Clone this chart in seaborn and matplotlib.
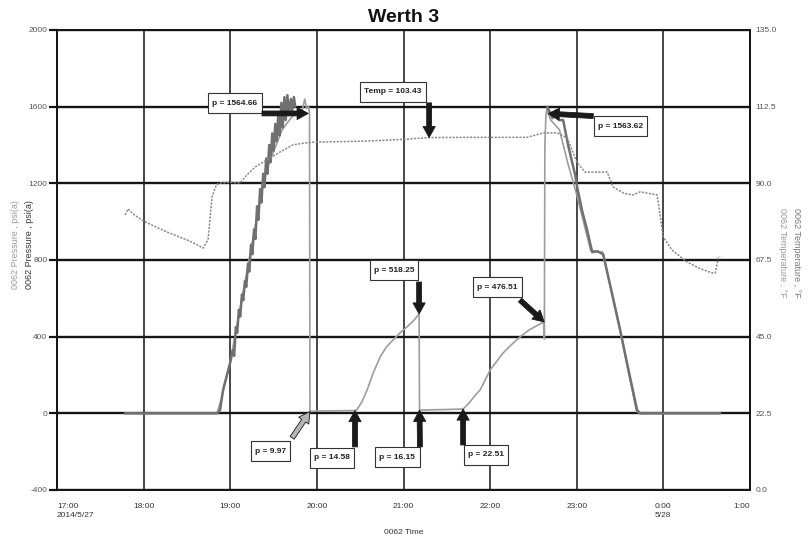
import matplotlib
matplotlib.use("Agg")
import matplotlib.pyplot as plt
from matplotlib.path import Path
import numpy as np
import pandas as pd
import seaborn as sns

# ---------------- data (hours after 17:00 on 2014/5/27) ----------------
thick_rise_h = [0.785, 1.848, 1.882, 1.917, 1.998, 2.030, 2.045, 2.065, 2.080, 2.100, 2.115,
                2.135, 2.150, 2.170, 2.185, 2.205, 2.220, 2.240, 2.255, 2.275, 2.290, 2.310,
                2.325, 2.345, 2.360, 2.380, 2.395, 2.415, 2.430, 2.450, 2.465, 2.485, 2.500,
                2.520, 2.535, 2.555, 2.570, 2.590, 2.605, 2.625, 2.640, 2.660, 2.675, 2.700,
                2.715, 2.735, 2.750]
thick_rise_p = [0, 0, 17, 122, 262, 330, 300, 450, 420, 540, 505,
                620, 590, 690, 660, 780, 740, 880, 830, 960, 910, 1080,
                1010, 1170, 1100, 1250, 1180, 1330, 1250, 1400, 1310, 1460, 1370,
                1510, 1420, 1560, 1450, 1620, 1490, 1650, 1530, 1660, 1560, 1640,
                1580, 1650, 1600]

thick_fall_h = [5.660, 5.720, 5.760, 5.800, 5.843, 5.900, 5.982, 6.005, 6.060, 6.120, 6.178,
                6.240, 6.305, 6.400, 6.501, 6.600, 6.697, 6.732, 7.656]
thick_fall_p = [1600, 1540, 1580, 1530, 1530, 1400, 1243, 1180, 1060, 956, 841,
                845, 830, 640, 435, 220, 17, 0, 0]

thin_h = [0.785, 1.848, 1.900, 2.000, 2.200, 2.400, 2.600, 2.700, 2.780, 2.820, 2.860, 2.880,
          2.905, 2.915, 2.920, 2.930, 3.000, 3.200, 3.440, 3.464, 3.520, 3.580, 3.650, 3.730,
          3.800, 3.880, 3.960, 4.040, 4.120, 4.180, 4.185, 4.300, 4.500, 4.688, 4.750, 4.820,
          4.885, 5.000, 5.150, 5.250, 5.346, 5.450, 5.554, 5.624, 5.626, 5.632, 5.645, 5.658,
          5.670, 5.700, 5.800, 5.900, 6.000, 6.100, 6.160, 6.300, 6.500, 6.690, 6.730, 7.656]
thin_p = [0, 0, 80, 270, 760, 1250, 1480, 1540, 1580, 1560, 1640, 1590,
          1600, 1564.66, 9.97, 10, 12, 13, 14.58, 20, 60, 122, 210, 294,
          345, 383, 420, 451, 485, 518.25, 16.15, 18, 20, 22.51, 50, 90,
          122, 226, 315, 360, 399, 435, 461, 476.51, 388, 1400, 1560, 1598,
          1563.62, 1530, 1480, 1300, 1140, 960, 850, 840, 430, 10, 0, 0]

temp_h = [0.785, 0.82, 0.88, 0.98, 1.10, 1.27, 1.40, 1.50, 1.60, 1.686, 1.744, 1.79, 1.84,
          1.882, 2.0, 2.113, 2.194, 2.286, 2.425, 2.575, 2.725, 2.85, 2.956, 3.2, 3.58, 4.0,
          4.296, 4.8, 5.427, 5.50, 5.612, 5.774, 5.89, 6.005, 6.097, 6.351, 6.42, 6.55, 6.651,
          6.732, 6.928, 6.998, 7.10, 7.275, 7.42, 7.563, 7.60, 7.633, 7.656]
temp_f = [80.7, 82.5, 81.0, 79.2, 77.7, 75.7, 74.4, 73.4, 72.2, 71.0, 73.4, 86.0, 89.6,
          90.1, 90.3, 90.1, 92.5, 94.8, 96.9, 99.2, 101.3, 101.8, 102.1, 102.2, 102.4, 102.9,
          103.43, 103.5, 103.5, 104.0, 104.8, 104.8, 103.3, 96.0, 93.3, 93.3, 88.9, 87.0, 86.6,
          87.5, 86.6, 74.3, 70.4, 66.9, 65.0, 63.7, 63.7, 68.1, 68.4]

x_ticks = [0, 1, 2, 3, 4, 5, 6, 7, 8]
x_tick_labels = ["17:00\n2014/5/27", "18:00", "19:00", "20:00", "21:00", "22:00",
                 "23:00", "0:00\n5/28", "1:00"]
p_ticks = [-400, 0, 400, 800, 1200, 1600, 2000]
t_ticks = [0.0, 22.5, 45.0, 67.5, 90.0, 112.5, 135.0]

# annotations: label, axis, tip (h, value), arrow tail (h, value), box centre (h, value), face
annotations = [
    ("p = 1564.66", "p", (2.900, 1564.66), (2.367, 1564.66), (2.055, 1619), "#1a1a1a"),
    ("Temp = 103.43", "t", (4.296, 103.43), (4.296, 113.6), (3.88, 116.9), "#1a1a1a"),
    ("p = 1563.62", "p", (5.670, 1563.62), (6.190, 1551), (6.507, 1498), "#1a1a1a"),
    ("p = 518.25", "p", (4.180, 518.25), (4.180, 685), (3.89, 747), "#1a1a1a"),
    ("p = 476.51", "p", (5.624, 476.51), (5.346, 591), (5.087, 659), "#1a1a1a"),
    ("p = 9.97", "p", (2.920, 9.97), (2.714, -128), (2.465, -197), "#b5b5b5"),
    ("p = 14.58", "p", (3.440, 14.58), (3.440, -175), (3.175, -233), "#1a1a1a"),
    ("p = 16.15", "p", (4.185, 16.15), (4.190, -175), (3.93, -228), "#1a1a1a"),
    ("p = 22.51", "p", (4.688, 22.51), (4.688, -165), (4.954, -217), "#1a1a1a"),
]

# ---------------- style ----------------
sns.set_theme(style="white")
plt.rcParams["font.family"] = ["Liberation Sans", "DejaVu Sans"]

W, H = 809, 541
fig = plt.figure(figsize=(W / 100, H / 100), dpi=100)
ax = fig.add_axes([57 / W, 1 - 490 / H, (750 - 57) / W, 460 / H])
ax2 = ax.twinx()

thick_rise = pd.DataFrame({"h": thick_rise_h, "p": thick_rise_p})
thick_fall = pd.DataFrame({"h": thick_fall_h, "p": thick_fall_p})
thin = pd.DataFrame({"h": thin_h, "p": thin_p})
temp = pd.DataFrame({"h": temp_h, "t": temp_f})

sns.lineplot(data=thin, x="h", y="p", ax=ax, sort=False, estimator=None,
             color="#9d9d9d", lw=1.2, legend=False, zorder=3)
for df in (thick_rise, thick_fall):
    sns.lineplot(data=df, x="h", y="p", ax=ax, sort=False, estimator=None,
                 color="#707070", lw=1.8, legend=False, zorder=4)
sns.lineplot(data=temp, x="h", y="t", ax=ax2, sort=False, estimator=None,
             color="#8a8a8a", lw=1.1, linestyle=(0, (1.4, 0.9)), legend=False, zorder=3)

ax.set_xlim(0, 8)
ax.set_ylim(-400, 2000)
ax2.set_ylim(0, 135)
ax.set_xlabel("")
ax.set_ylabel("")
ax2.set_ylabel("")

# grid
ax.set_axisbelow(True)
ax.set_yticks(p_ticks)
ax.set_xticks(x_ticks)
ax.yaxis.grid(True, color="#151515", lw=1.7)
ax.xaxis.grid(True, color="#151515", lw=1.1)
ax2.grid(False)

for a in (ax, ax2):
    for s in a.spines.values():
        s.set_color("#151515")
        s.set_linewidth(1.3)

ax.set_yticklabels([str(v) for v in p_ticks])
ax.tick_params(axis="y", direction="out", length=6, width=1.6, color="#151515",
               labelsize=6, labelcolor="#555555", pad=1, left=True)
ax2.set_yticks(t_ticks)
ax2.set_yticklabels([f"{v:.1f}" for v in t_ticks])
ax2.tick_params(axis="y", length=0, labelsize=6, labelcolor="#555555", pad=4)

ax.set_xticklabels(x_tick_labels, linespacing=1.55)
ax.tick_params(axis="x", length=0, labelsize=6, labelcolor="#333333", pad=9)
xl = ax.get_xticklabels()
for lab in xl:
    lab.set_multialignment("left")
xl[0].set_horizontalalignment("left")
xl[-1].set_horizontalalignment("right")


def label_box(x0, y0, width, height, mutation_size):
    px = 0.5 * mutation_size
    py = 0.8 * mutation_size
    xa, ya = x0 - px, y0 - py
    xb, yb = x0 + width + px, y0 + height + py
    return Path([(xa, ya), (xb, ya), (xb, yb), (xa, yb), (xa, ya)], closed=True)


# annotations
for label, which, tip, tail, centre, fc in annotations:
    target = ax if which == "p" else ax2
    target.text(centre[0], centre[1], label, ha="center", va="center", fontsize=6,
                fontweight="bold", color="#222222", zorder=10,
                bbox=dict(boxstyle=label_box, fc="white", ec="#333333", lw=0.8))
    target.annotate(
        "", xy=tip, xytext=tail, textcoords="data", annotation_clip=False, zorder=11,
        arrowprops=dict(arrowstyle="simple,head_length=0.5,head_width=0.55,tail_width=0.22",
                        fc=fc, ec="#1a1a1a", lw=0.6, shrinkA=0, shrinkB=0,
                        mutation_scale=16),
    )

# texts
fig.text(404 / W, 1 - 17 / H, "Werth 3", ha="center", va="center",
         fontsize=14, fontweight="bold", color="#111111")
fig.text(404 / W, 1 - 532 / H, "0062 Time", ha="center", va="center",
         fontsize=6, color="#333333")
fig.text(16 / W, 1 - 245 / H, "0062 Pressure , psi(a)", rotation=90, ha="center",
         va="center", fontsize=6.5, color="#9a9a9a")
fig.text(29 / W, 1 - 245 / H, "0062 Pressure , psi(a)", rotation=90, ha="center",
         va="center", fontsize=6.5, color="#333333")
fig.text(782 / W, 1 - 253 / H, "0062 Temperature , °F", rotation=270, ha="center",
         va="center", fontsize=6.5, color="#9a9a9a")
fig.text(796 / W, 1 - 253 / H, "0062 Temperature , °F", rotation=270, ha="center",
         va="center", fontsize=6.5, color="#777777")

fig.savefig("out.png", dpi=100, facecolor="white")
